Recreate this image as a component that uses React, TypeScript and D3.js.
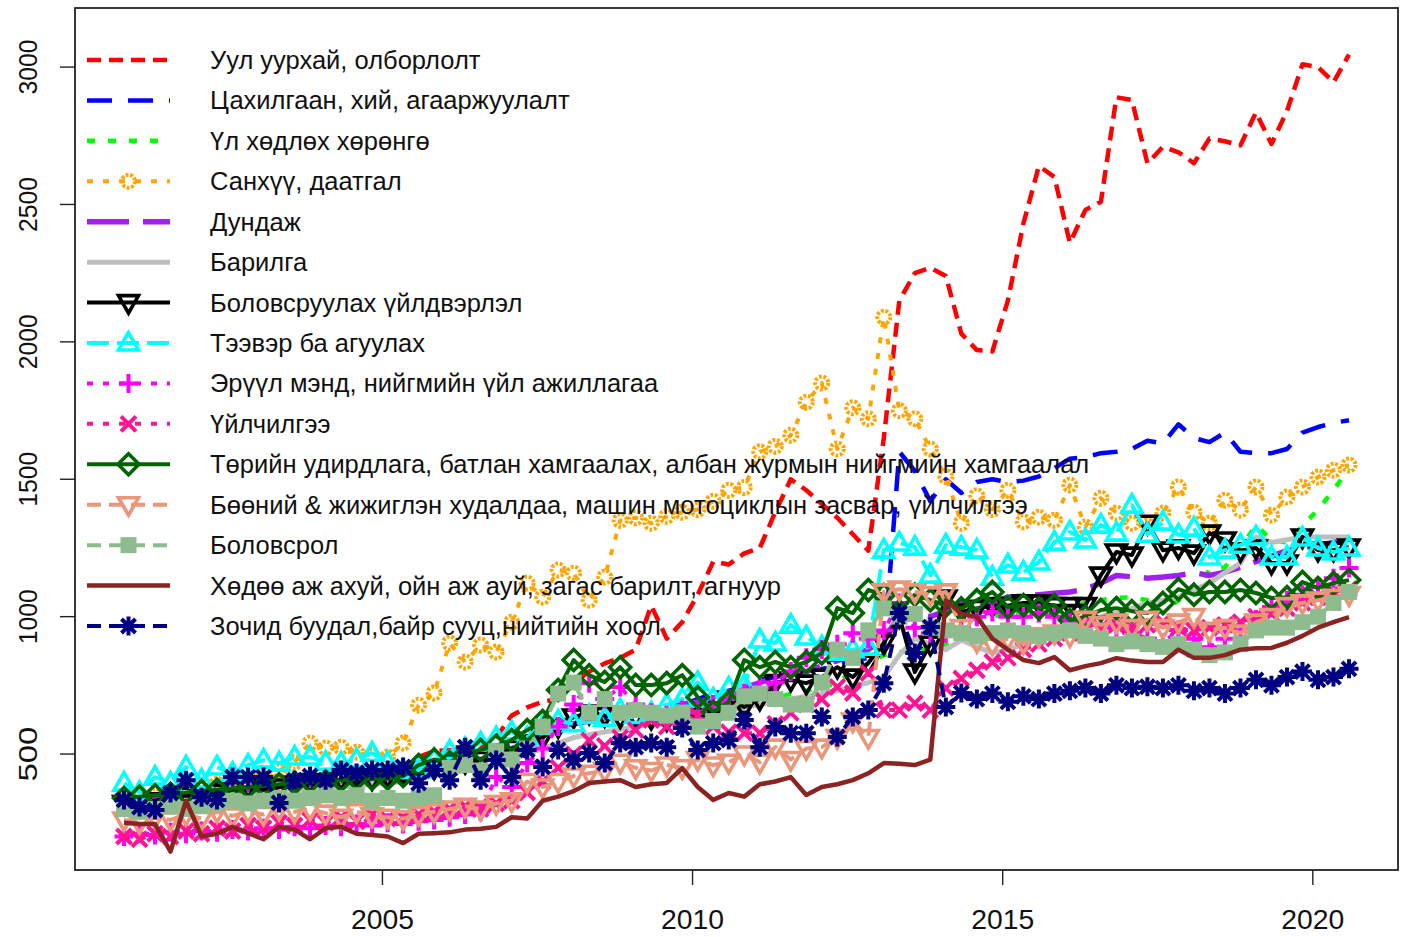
import React from "react";
import * as d3 from "d3";

const W = 1405;
const H = 937;
const startYear = 2000 + 10 / 12;
const quarterCount = 80;

const seriesNames = [
  "Уул уурхай, олборлолт",
  "Цахилгаан, хий, агааржуулалт",
  "Үл хөдлөх хөрөнгө",
  "Санхүү, даатгал",
  "Дундаж",
  "Барилга",
  "Боловсруулах үйлдвэрлэл",
  "Тээвэр ба агуулах",
  "Эрүүл мэнд, нийгмийн үйл ажиллагаа",
  "Үйлчилгээ",
  "Төрийн удирдлага, батлан хамгаалах, албан журмын нийгмийн хамгаалал",
  "Бөөний & жижиглэн худалдаа, машин мотоциклын засвар, үйлчилгээ",
  "Боловсрол",
  "Хөдөө аж ахуй, ойн аж ауй, загас барилт, агнуур",
  "Зочид буудал,байр сууц,нийтийн хоол",
];

const mining = [320,330,320,340,350,340,360,360,370,360,380,390,390,400,400,410,420,410,430,490,510,515,480,520,560,640,670,690,700,760,800,830,850,880,1040,920,980,1080,1200,1190,1230,1250,1380,1500,1460,1410,1360,1300,1240,1650,2150,2250,2270,2240,2030,1970,1965,2150,2430,2640,2600,2360,2480,2510,2890,2880,2650,2710,2690,2650,2740,2730,2715,2835,2720,2840,3010,3000,2945,3045];
const electricity = [350,340,360,370,380,370,390,400,400,390,410,420,420,430,430,440,450,440,460,470,480,490,500,510,520,540,560,580,600,610,620,630,640,640,650,660,680,700,720,730,750,770,780,790,800,810,820,840,850,870,1600,1530,1420,1500,1450,1490,1500,1490,1495,1510,1540,1575,1580,1595,1600,1610,1640,1630,1700,1650,1635,1670,1600,1595,1595,1610,1670,1690,1705,1715];
const realEstate = [330,335,340,345,350,355,360,365,370,375,380,385,390,395,400,405,410,415,430,440,450,460,470,480,500,520,540,570,600,610,620,620,630,630,640,640,650,650,660,670,680,690,700,720,730,740,760,800,830,860,870,880,880,900,950,980,1000,1010,1020,1020,1030,1040,1050,1060,1068,1070,1060,1013,1060,1080,1170,1180,1250,1333,1279,1270,1330,1390,1460,1540];
const finance = [330,340,350,360,370,380,390,400,410,430,440,470,540,522,525,507,495,489,540,678,722,904,835,897,871,980,1122,1071,1170,1158,1060,1144,1350,1360,1340,1365,1380,1390,1420,1460,1470,1600,1620,1660,1780,1850,1610,1760,1720,2090,1750,1720,1610,1510,1340,1440,1390,1460,1345,1362,1351,1479,1326,1431,1377,1340,1330,1377,1472,1380,1340,1424,1388,1472,1370,1435,1472,1508,1533,1552];
const average = [330,330,340,345,350,350,360,365,370,370,380,385,390,395,400,405,410,415,420,430,450,460,470,480,500,520,540,570,600,610,620,630,640,650,660,670,680,690,700,720,740,760,780,790,800,820,840,860,880,920,1000,1010,1000,1020,1050,1040,1050,1071,1075,1080,1085,1090,1100,1122,1150,1145,1140,1144,1150,1160,1150,1162,1180,1200,1220,1240,1250,1260,1270,1290];
const construction = [310,315,320,320,330,335,340,345,350,355,360,365,370,375,380,385,390,395,400,410,420,430,440,450,460,480,500,520,540,560,570,580,590,600,610,620,630,640,650,660,670,680,690,700,710,720,730,745,760,780,860,920,900,880,915,890,868,880,900,930,950,970,990,1000,1013,1030,1050,1060,1071,1097,1122,1160,1195,1290,1270,1280,1290,1290,1290,1290];
const manufacturing = [320,310,330,340,350,340,360,370,380,370,380,390,400,390,410,420,410,420,430,440,450,460,470,480,500,520,540,560,600,635,649,640,635,640,630,624,650,640,660,700,671,700,760,769,758,780,816,780,831,904,1000,798,900,1068,1017,1030,1040,1040,1050,1050,1040,1040,1040,1151,1235,1224,1340,1242,1250,1231,1304,1279,1240,1250,1195,1195,1290,1242,1242,1253];
const transport = [394,360,416,394,453,405,453,430,460,478,467,489,489,470,467,480,503,470,440,442,480,510,520,540,560,580,560,600,620,610,640,630,660,640,650,680,700,760,700,740,750,915,904,969,926,890,870,880,889,1242,1268,1253,1151,1260,1253,1242,1144,1188,1162,1199,1271,1308,1279,1333,1304,1406,1300,1344,1297,1322,1217,1242,1260,1290,1217,1217,1286,1250,1235,1250];
const health = [200,210,205,215,210,220,215,225,220,230,225,235,230,240,235,245,240,250,245,255,260,270,280,290,416,380,467,520,600,680,758,700,744,680,650,640,660,650,680,700,720,740,760,800,850,880,900,940,920,950,1050,960,940,940,960,1000,1017,1000,1000,1013,1000,980,990,970,960,940,920,904,951,920,889,920,950,990,1035,1060,1080,1108,1140,1177];
const services = [200,190,210,200,220,210,230,220,240,230,250,240,260,250,270,255,280,265,270,280,290,300,310,300,320,330,360,400,450,500,550,530,560,587,624,600,620,640,600,580,576,576,610,650,680,700,744,722,795,660,660,685,660,740,775,805,835,850,880,900,920,940,950,960,970,960,970,980,960,950,960,970,980,1000,1010,1030,1050,1070,1090,1100];
const government = [340,345,350,355,360,365,370,375,380,385,390,395,400,400,405,410,410,410,420,460,480,470,500,515,530,551,587,620,733,842,787,762,816,751,751,758,787,707,653,689,842,816,835,816,835,867,1031,1013,1097,1079,1020,1080,1060,1040,1030,1060,1090,1035,1042,1030,1042,988,1000,1024,1031,1020,1013,1050,1100,1080,1090,1090,1097,1086,1068,1071,1126,1104,1122,1133];
const trade = [260,250,270,260,280,265,290,275,290,280,300,290,300,285,270,290,275,270,265,280,290,300,310,300,320,330,400,380,400,420,430,440,470,450,440,460,450,480,460,470,500,470,525,480,520,525,560,620,560,1090,1100,1090,1080,1090,960,910,900,920,905,930,940,930,990,970,980,960,990,960,980,1000,950,960,940,980,1000,1040,1050,1060,1070,1080];
const education = [300,290,300,310,300,310,320,330,320,330,340,330,340,350,340,350,330,340,330,340,350,450,460,440,510,480,520,600,720,760,650,700,650,660,650,640,650,600,620,650,710,720,700,680,680,760,880,850,950,1030,1000,1010,960,950,940,930,940,950,940,930,940,950,930,920,900,910,900,890,900,880,860,870,900,950,960,960,980,1000,1050,1090];
const agriculture = [250,245,245,145,330,200,210,235,212,190,235,225,190,230,235,210,205,200,176,210,212,215,225,228,235,270,265,330,345,365,395,400,405,380,390,395,449,380,333,358,345,390,400,416,351,380,390,405,430,467,465,460,480,1060,1010,1000,920,880,842,831,853,805,820,831,849,840,835,835,880,850,850,860,880,885,886,905,930,960,980,998];
const hotels = [333,307,296,358,405,343,333,416,416,416,322,405,420,405,442,431,442,442,453,394,442,405,525,405,478,416,515,453,515,478,504,467,540,525,540,525,595,515,540,551,624,525,598,576,576,635,562,635,660,758,1013,868,962,671,722,700,720,690,710,700,720,730,740,720,750,740,745,740,750,730,740,720,740,770,750,780,800,770,780,810];

const yTicks = [500, 1000, 1500, 2000, 2500, 3000];
const xTicks = [2005, 2010, 2015, 2020];

type Marker = "none" | "ring" | "itri" | "tri" | "plus" | "x" | "diamond" | "square" | "star";
interface Series { name: string; values: number[]; color: string; dash: string; width: number; marker: Marker; }

const seriesValues = [mining, electricity, realEstate, finance, average, construction, manufacturing, transport, health, services, government, trade, education, agriculture, hotels];
const styles: { color: string; dash: string; width: number; marker: Marker }[] = [
  { color: "#FF0000", dash: "14 8", width: 4.5, marker: "none" },
  { color: "#0000FF", dash: "25 16", width: 4.5, marker: "none" },
  { color: "#00FF00", dash: "8 13", width: 4.5, marker: "none" },
  { color: "#FFA500", dash: "6 10", width: 4, marker: "ring" },
  { color: "#A020F0", dash: "42 14", width: 5.5, marker: "none" },
  { color: "#BEBEBE", dash: "", width: 5, marker: "none" },
  { color: "#000000", dash: "", width: 4, marker: "itri" },
  { color: "#00FFFF", dash: "22 8", width: 4, marker: "tri" },
  { color: "#FF00FF", dash: "6 10", width: 4, marker: "plus" },
  { color: "#FF1493", dash: "6 10", width: 4, marker: "x" },
  { color: "#006400", dash: "", width: 4, marker: "diamond" },
  { color: "#E9967A", dash: "14 8", width: 4, marker: "itri" },
  { color: "#8FBC8F", dash: "14 8", width: 4, marker: "square" },
  { color: "#8B2323", dash: "", width: 4.5, marker: "none" },
  { color: "#000080", dash: "14 8", width: 4, marker: "star" },
];

const series: Series[] = seriesNames.map((name, i) => ({ name, values: seriesValues[i], ...styles[i] }));

const times = d3.range(quarterCount).map((i) => startYear + i / 4);
const tMin = times[0];
const tMax = times[times.length - 1];
const pad = (tMax - tMin) * 0.04;

const box = { left: 75, right: 1398, top: 8, bottom: 870 };
const x = d3.scaleLinear().domain([tMin - pad, tMax + pad]).range([box.left, box.right]);
const y = d3.scaleLinear().domain([78, 3215]).range([box.bottom, box.top]);

function MarkerShape({ type, cx, cy, color }: { type: Marker; cx: number; cy: number; color: string }) {
  const sw = 3.6;
  switch (type) {
    case "ring":
      return <circle cx={cx} cy={cy} r={6.5} fill="none" stroke={color} strokeWidth={4} strokeDasharray="2.8 1.7" />;
    case "tri":
      return <polygon points={`${cx},${cy - 10.5} ${cx - 10},${cy + 7} ${cx + 10},${cy + 7}`} fill="none" stroke={color} strokeWidth={sw} strokeLinejoin="miter" />;
    case "itri":
      return <polygon points={`${cx},${cy + 10.5} ${cx - 10},${cy - 7} ${cx + 10},${cy - 7}`} fill="none" stroke={color} strokeWidth={sw} strokeLinejoin="miter" />;
    case "plus":
      return <path d={`M${cx - 9.5},${cy}H${cx + 9.5}M${cx},${cy - 9.5}V${cy + 9.5}`} stroke={color} strokeWidth={4} />;
    case "x":
      return <path d={`M${cx - 7.5},${cy - 7.5}L${cx + 7.5},${cy + 7.5}M${cx - 7.5},${cy + 7.5}L${cx + 7.5},${cy - 7.5}`} stroke={color} strokeWidth={4} />;
    case "diamond":
      return <polygon points={`${cx},${cy - 10.5} ${cx + 10.5},${cy} ${cx},${cy + 10.5} ${cx - 10.5},${cy}`} fill="none" stroke={color} strokeWidth={sw} />;
    case "square":
      return <rect x={cx - 8} y={cy - 8} width={16} height={16} fill={color} />;
    case "star":
      return <path d={`M${cx - 9.5},${cy}H${cx + 9.5}M${cx},${cy - 9.5}V${cy + 9.5}M${cx - 7},${cy - 7}L${cx + 7},${cy + 7}M${cx - 7},${cy + 7}L${cx + 7},${cy - 7}`} stroke={color} strokeWidth={4} />;
    default:
      return null;
  }
}

export default function App() {
  const line = d3.line<number>().x((_, i) => x(times[i])).y((v) => y(v));
  const font = "Liberation Sans, Arial, sans-serif";
  const legendX1 = 87;
  const legendX2 = 170;
  const legendTop = 60;
  const legendStep = 40.43;

  return (
    <svg width={W} height={H} style={{ position: "absolute", left: 0, top: 0, background: "#fff" }} fontFamily={font}>
      <rect x={0} y={0} width={W} height={H} fill="#fff" />
      {series.map((s, si) => (
        <g key={si}>
          <path d={line(s.values) || ""} fill="none" stroke={s.color} strokeWidth={s.width} strokeDasharray={s.dash || undefined} strokeLinejoin="round" />
          {s.marker !== "none" && s.values.map((v, i) => <MarkerShape key={i} type={s.marker} cx={x(times[i])} cy={y(v)} color={s.color} />)}
        </g>
      ))}
      <rect x={box.left} y={box.top} width={box.right - box.left} height={box.bottom - box.top} fill="none" stroke="#222" strokeWidth={1.8} />
      {yTicks.map((t) => (
        <g key={t}>
          <line x1={box.left} x2={box.left - 15} y1={y(t)} y2={y(t)} stroke="#222" strokeWidth={1.4} />
          <text transform={`translate(37,${y(t)}) rotate(-90)`} textAnchor="middle" fontSize={26} textLength={55} lengthAdjust="spacingAndGlyphs" fill="#111">{t}</text>
        </g>
      ))}
      {xTicks.map((t) => (
        <g key={t}>
          <line x1={x(t)} x2={x(t)} y1={box.bottom} y2={box.bottom + 15} stroke="#222" strokeWidth={1.4} />
          <text x={x(t)} y={929} textAnchor="middle" fontSize={27} textLength={63} lengthAdjust="spacingAndGlyphs" fill="#111">{t}</text>
        </g>
      ))}
      {series.map((s, si) => {
        const ly = legendTop + si * legendStep;
        return (
          <g key={`lg${si}`}>
            <line x1={legendX1} x2={legendX2} y1={ly} y2={ly} stroke={s.color} strokeWidth={s.width} strokeDasharray={s.dash || undefined} />
            {s.marker !== "none" && <MarkerShape type={s.marker} cx={(legendX1 + legendX2) / 2} cy={ly} color={s.color} />}
            <text x={210} y={ly + 9} fontSize={25.5} fill="#111">{s.name}</text>
          </g>
        );
      })}
    </svg>
  );
}
